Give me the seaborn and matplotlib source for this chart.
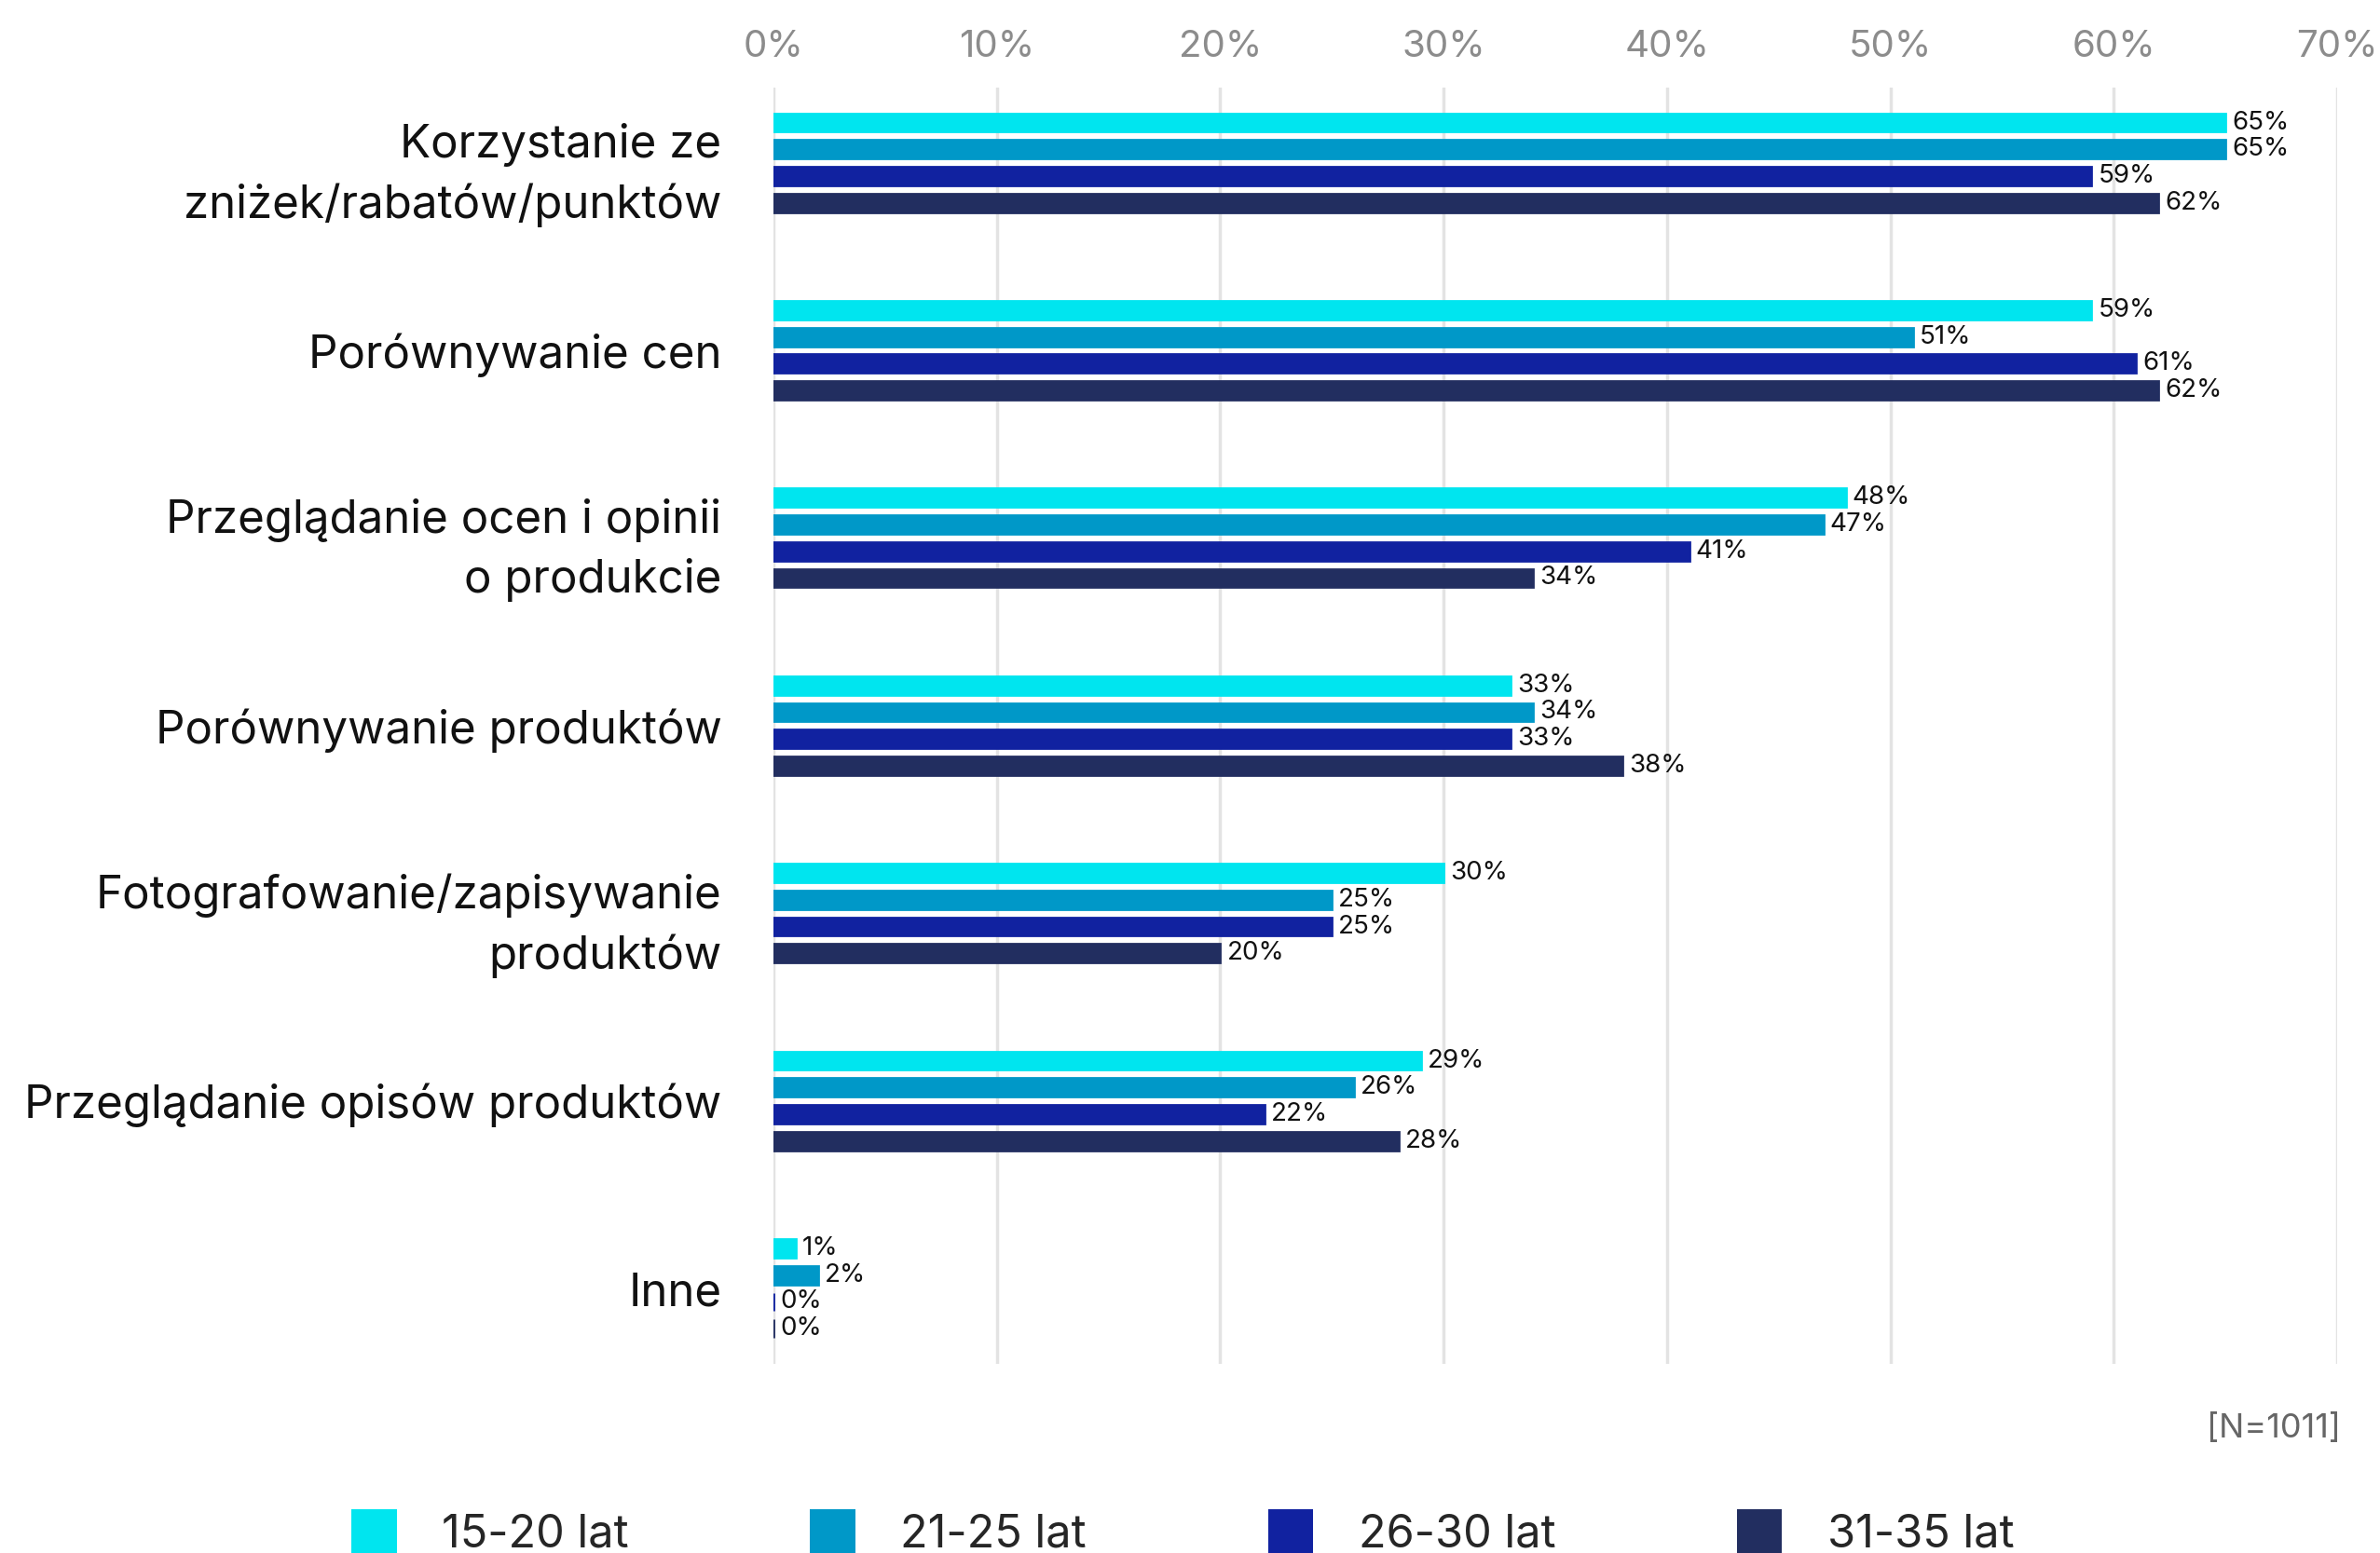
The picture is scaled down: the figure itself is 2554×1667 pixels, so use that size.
import matplotlib
matplotlib.use("Agg")
import matplotlib.pyplot as plt
from matplotlib.patches import Rectangle
from matplotlib.ticker import FuncFormatter
import seaborn as sns
import pandas as pd

# Survey categories (shopping activities) and answer shares per age group, in %
categories = [
    "Korzystanie ze\nzniżek/rabatów/punktów",
    "Porównywanie cen",
    "Przeglądanie ocen i opinii\no produkcie",
    "Porównywanie produktów",
    "Fotografowanie/zapisywanie\nproduktów",
    "Przeglądanie opisów produktów",
    "Inne",
]
age_groups = ["15-20 lat", "21-25 lat", "26-30 lat", "31-35 lat"]
values_15_20 = [65, 59, 48, 33, 30, 29, 1]
values_21_25 = [65, 51, 47, 34, 25, 26, 2]
values_26_30 = [59, 61, 41, 33, 25, 22, 0]
values_31_35 = [62, 62, 34, 38, 20, 28, 0]
x_ticks = [0, 10, 20, 30, 40, 50, 60, 70]
sample_note = "[N=1011]"

colors = ["#00E5EF", "#0098C8", "#1122A0", "#222E60"]

series = [values_15_20, values_21_25, values_26_30, values_31_35]
rows = []
for grp, vals in zip(age_groups, series):
    for cat, v in zip(categories, vals):
        rows.append({"category": cat, "group": grp, "value": v})
df = pd.DataFrame(rows)

sns.set_theme(style="white")
plt.rcParams["font.family"] = ["Inter", "DejaVu Sans"]

fig = plt.figure(figsize=(25.54, 16.67), dpi=100)
ax = fig.add_axes([0.325, 0.122, 0.657, 0.8216])

sns.barplot(
    data=df, y="category", x="value", hue="group",
    order=categories, hue_order=age_groups, palette=colors,
    orient="h", width=0.57, ax=ax, legend=False, errorbar=None,
    saturation=1,
)

# Thin the bars to leave a gap between bars of one group
for container, col in zip(ax.containers, colors):
    for patch in container:
        h = patch.get_height()
        y = patch.get_y()
        new_h = h * 0.69
        patch.set_y(y + (h - new_h) / 2)
        patch.set_height(new_h)
        patch.set_edgecolor(col)
        patch.set_linewidth(2.0)

for container, vals in zip(ax.containers, series):
    ax.bar_label(container, labels=[f"{v}%" for v in vals], padding=5,
                 fontsize=20, color="#111111")

ax.set_xlim(0, 70)
ax.set_ylim(6.4, -0.4)
ax.set_xticks(x_ticks)
ax.xaxis.set_major_formatter(FuncFormatter(lambda v, p: f"{v:.0f}%"))
ax.xaxis.tick_top()
ax.tick_params(axis="x", length=0, pad=18, labelsize=29, labelcolor="#8C8C8C")
ax.tick_params(axis="y", length=0, pad=40, labelsize=35.5, labelcolor="#111111")
for lbl in ax.get_yticklabels():
    lbl.set_linespacing(1.45)
ax.set_xlabel("")
ax.set_ylabel("")
ax.grid(axis="x", color="#E3E3E3", linewidth=2.5)
ax.grid(axis="y", visible=False)
ax.set_axisbelow(True)
for s in ax.spines.values():
    s.set_visible(False)

fig.text(0.9835, 0.080, sample_note, ha="right", va="center",
         fontsize=26, color="#666666")

handles = [Rectangle((0, 0), 1, 1, facecolor=c, edgecolor="none") for c in colors]
fig.legend(handles, age_groups, loc="center", bbox_to_anchor=(0.497, 0.013),
           ncol=4, frameon=False, fontsize=35, handlelength=1.0,
           handleheight=1.1, handletextpad=1.0, columnspacing=4.0)

fig.savefig("out.png", dpi=100)
